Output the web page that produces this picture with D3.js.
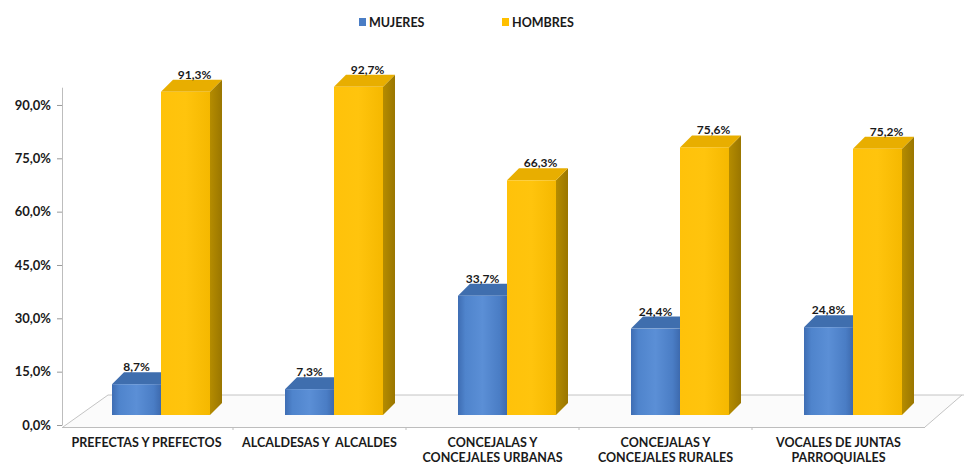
<!DOCTYPE html>
<html><head><meta charset="utf-8">
<script src="https://cdn.jsdelivr.net/npm/d3@7/dist/d3.min.js"></script>
<style>
body{margin:0;background:#fff;}
svg{display:block;font-family:Lato,"Open Sans",sans-serif;font-weight:700;}
text{white-space:pre;}
</style></head>
<body><svg id="c" width="964" height="466"></svg>
<script>
const categories = ["PREFECTAS Y PREFECTOS", "ALCALDESAS Y  ALCALDES", "CONCEJALAS Y CONCEJALES URBANAS", "CONCEJALAS Y CONCEJALES RURALES", "VOCALES DE JUNTAS PARROQUIALES"];
const categoryLines = [["PREFECTAS Y PREFECTOS"], ["ALCALDESAS Y  ALCALDES"], ["CONCEJALAS Y", "CONCEJALES URBANAS"], ["CONCEJALAS Y", "CONCEJALES RURALES"], ["VOCALES DE JUNTAS", "PARROQUIALES"]];
const series = ["MUJERES", "HOMBRES"];
const mujeres = [8.7, 7.3, 33.7, 24.4, 24.8];
const hombres = [91.3, 92.7, 66.3, 75.6, 75.2];
const yTicks = [0, 15, 30, 45, 60, 75, 90];

const svg = d3.select("#c");
const fmt = v => d3.format(".1f")(v).replace(".", ",") + "%";

const x0 = d3.scaleBand().domain(categories).range([56, 921]);
const x1 = d3.scaleBand().domain(series).range([0, 98]);
const groupOffset = 56;
const yAxisScale = d3.scaleLinear().domain([0, 95]).range([425, 87.2]);
const yBar = d3.scaleLinear().domain([0, 100]).range([415, 61]);
const color = d3.scaleOrdinal().domain(series).range(["#4a7dc5", "#ffc000"]);
const DX = 12, DY = -12;

// defs
const defs = svg.append("defs");
function lg(id, stops) {
  const g = defs.append("linearGradient").attr("id", id).attr("x1", 0).attr("x2", 1).attr("y1", 0).attr("y2", 0);
  stops.forEach(s => g.append("stop").attr("offset", s[0]).attr("stop-color", s[1]));
}
lg("gBlue", [[0, "#3e6db3"], [0.15, "#4f84cc"], [0.5, "#5b8fd6"], [0.85, "#4a7dc5"], [1, "#3d6aae"]]);
lg("gYel", [[0, "#ffc20a"], [0.5, "#ffc40d"], [1, "#f5b800"]]);
lg("gYelSide", [[0, "#b58c00"], [1, "#9a7600"]]);

// floor
const fl = [[63, 427], [925, 427], [962, 395], [108, 395]];
svg.append("path").attr("d", "M" + fl.join("L") + "Z").attr("fill", "#fbfbfb").attr("stroke", "none");
svg.append("line").attr("x1", 108).attr("x2", 964).attr("y1", 395).attr("y2", 395).attr("stroke", "#c4c4c4");
svg.append("line").attr("x1", 63).attr("x2", 108).attr("y1", 427).attr("y2", 395).attr("stroke", "#c4c4c4");
svg.append("line").attr("x1", 925).attr("x2", 962).attr("y1", 427).attr("y2", 395).attr("stroke", "#c4c4c4");
svg.append("line").attr("x1", 62).attr("x2", 925).attr("y1", 427.5).attr("y2", 427.5).attr("stroke", "#bdbdbd");
categories.slice(1).forEach(c => {
  const xx = x0(c) + 4;
  svg.append("line").attr("x1", xx).attr("x2", xx).attr("y1", 427).attr("y2", 430).attr("stroke", "#bdbdbd");
});

// y axis
const yAxis = d3.axisLeft(yAxisScale).tickValues(yTicks).tickSize(5).tickSizeOuter(0).tickFormat(fmt).tickPadding(6);
const ga = svg.append("g").attr("transform", "translate(62,0)").call(yAxis);
ga.select(".domain").attr("stroke", "#bdbdbd");
ga.selectAll(".tick line").attr("stroke", "#9a9a9a");
ga.selectAll(".tick text").attr("fill", "#1a1a1a").style("font-size", "13px").style("font-weight", 700).style("font-family", "Lato");

// bars
const data = [];
categories.forEach((c, i) => {
  data.push({ c, i, s: "MUJERES", v: mujeres[i] });
  data.push({ c, i, s: "HOMBRES", v: hombres[i] });
});
const base = yBar(0);
const gBars = svg.append("g");
data.forEach(d => {
  const x = x0(d.c) + groupOffset + x1(d.s);
  const w = x1.bandwidth();
  const yt = yBar(d.v);
  const g = gBars.append("g");
  const blue = d.s === "MUJERES";
  g.append("path").attr("d", `M${x + w},${yt}L${x + w + DX},${yt + DY}L${x + w + DX},${base + DY}L${x + w},${base}Z`)
    .attr("fill", blue ? "#2f5a96" : "url(#gYelSide)");
  g.append("path").attr("d", `M${x},${yt}L${x + DX},${yt + DY}L${x + w + DX},${yt + DY}L${x + w},${yt}Z`)
    .attr("fill", blue ? "#3f6eae" : "#e8ae00");
  g.append("rect").attr("x", x).attr("y", yt).attr("width", w).attr("height", base - yt)
    .attr("fill", blue ? "url(#gBlue)" : "url(#gYel)");
  g.append("text").attr("x", x + w / 2 + (blue ? 0 : 9)).attr("y", yt - 13)
    .attr("text-anchor", "middle").attr("fill", "#1a1a1a").style("font-size", "12px").text(fmt(d.v));
});

// category labels
categories.forEach((c, i) => {
  const cx = x0(c) + x0.bandwidth() / 2 + 4;
  categoryLines[i].forEach((ln, k) => {
    svg.append("text").attr("x", cx).attr("y", 447 + k * 15).attr("text-anchor", "middle")
      .attr("fill", "#1a1a1a").style("font-size", "12.5px").text(ln);
  });
});

// legend
const legX = [359, 502];
series.forEach((s, i) => {
  svg.append("rect").attr("x", legX[i]).attr("y", 18).attr("width", 7).attr("height", 8).attr("fill", color(s));
  svg.append("text").attr("x", legX[i] + 10).attr("y", 27).attr("fill", "#1a1a1a").style("font-size", "12.5px").text(s);
});
</script></body></html>
